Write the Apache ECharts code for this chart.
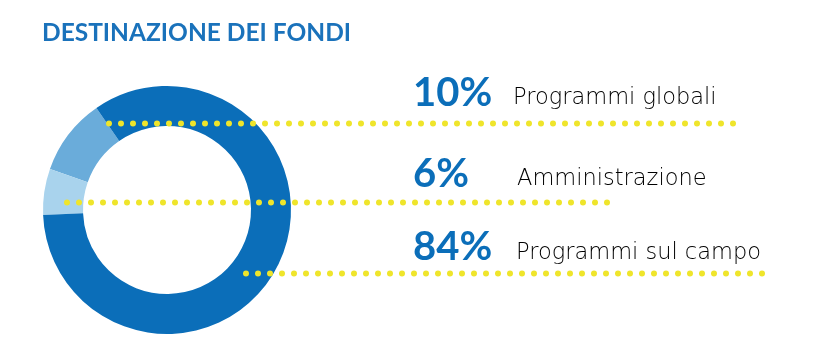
<!DOCTYPE html>
<html>
<head>
<meta charset="utf-8">
<script src="https://cdn.jsdelivr.net/npm/echarts@6/dist/echarts.min.js"></script>
<style>
  html, body { margin: 0; padding: 0; background: #fff; }
  #chart { width: 824px; height: 350px; }
</style>
</head>
<body>
<div id="chart"></div>
<script>
// Funding allocation (share of total, %)
const categories = ['Programmi globali', 'Amministrazione', 'Programmi sul campo'];
const shares = [10, 6, 84];
const sliceColors = ['#6aacda', '#a9d3ed', '#0b6eb9'];

const titleText = 'DESTINAZIONE DEI FONDI';

// Layout of the label rows to the right of the ring
const rowLayout = [
  { pctY: 93, nameX: 513, nameY: 100, dotY: 123.5, dotX0: 109, dotX1: 739 },
  { pctY: 174, nameX: 517, nameY: 181, dotY: 202.5, dotX0: 67, dotX1: 617 },
  { pctY: 247, nameX: 516, nameY: 255, dotY: 273.5, dotX0: 246, dotX1: 773 }
];

const chart = echarts.init(document.getElementById('chart'), null, { renderer: 'canvas' });

const graphics = [];
rowLayout.forEach((row, i) => {
  // dotted leader line
  graphics.push({
    type: 'line',
    z: 100,
    shape: { x1: row.dotX0, y1: row.dotY, x2: row.dotX1, y2: row.dotY },
    style: { stroke: '#efe52b', lineWidth: 6, lineDash: [0, 12], lineCap: 'round' }
  });
  graphics.push({
    type: 'text',
    z: 100,
    left: 413,
    top: row.pctY - 20,
    style: {
      text: shares[i] + '%',
      font: '700 40px Lato',
      fill: '#0b6eb9',
      verticalAlign: 'top'
    }
  });
  graphics.push({
    type: 'text',
    z: 100,
    left: row.nameX,
    top: row.nameY - 13,
    style: {
      text: categories[i],
      font: '200 22.5px "DejaVu Sans"',
      fill: '#000000',
      verticalAlign: 'top'
    }
  });
});

chart.setOption({
  animation: false,
  title: {
    text: titleText,
    left: 37,
    top: 16,
    textStyle: { fontFamily: 'Lato', fontWeight: 700, fontSize: 24.5, color: '#1a72bb' }
  },
  graphic: graphics,
  series: [{
    type: 'pie',
    center: [167, 210],
    radius: [84, 124],
    startAngle: 124.7,
    clockwise: false,
    label: { show: false },
    labelLine: { show: false },
    emphasis: { disabled: true },
    itemStyle: { borderWidth: 0 },
    data: categories.map((name, i) => ({
      name: name,
      value: shares[i],
      itemStyle: { color: sliceColors[i] }
    }))
  }]
});
</script>
</body>
</html>
